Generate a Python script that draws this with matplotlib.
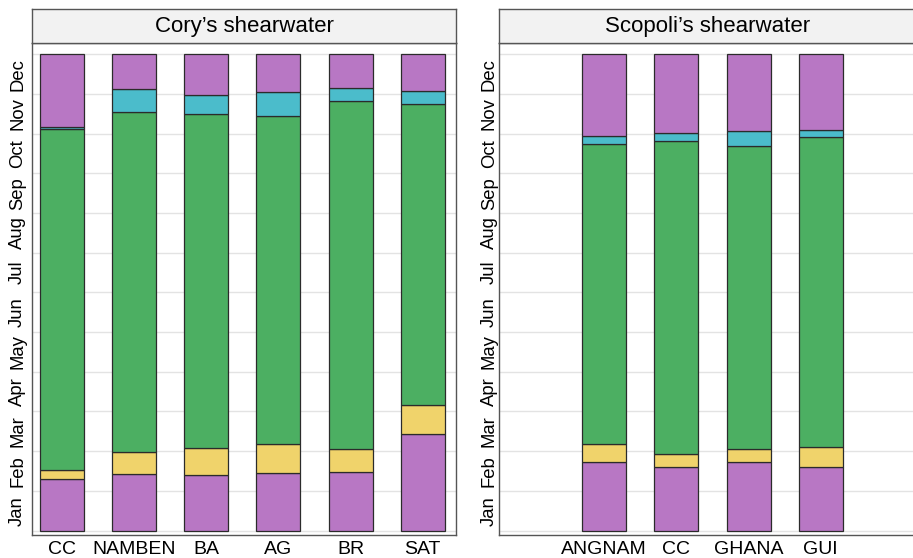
import matplotlib
matplotlib.use('Agg')
import matplotlib.pyplot as plt
import numpy as np

plt.rcParams['font.family'] = ['Liberation Sans', 'DejaVu Sans']

# ── palette ──────────────────────────────────────────────────────────────────
WINTER_C = '#b877c4'   # purple — non-breeding
SPRING_C = '#f0d36b'   # yellow — spring migration
BREED_C  = '#4caf62'   # green  — breeding
AUTUMN_C = '#4bbccb'   # cyan   — autumn migration
EDGE_C   = '#2b2b2b'
GRID_C   = '#e3e3e3'
FRAME_C  = '#555555'
STRIP_BG = '#f2f2f2'

MONTHS = ['Jan', 'Feb', 'Mar', 'Apr', 'May', 'Jun',
          'Jul', 'Aug', 'Sep', 'Oct', 'Nov', 'Dec']

# phase boundaries in months since 1 Jan
CORY_SITES  = ['CC', 'NAMBEN', 'BA', 'AG', 'BR', 'SAT']
CORY_SPRING = [1.30, 1.42, 1.39, 1.45, 1.48, 2.43]
CORY_BREED  = [1.52, 1.98, 2.09, 2.19, 2.06, 3.17]
CORY_AUTUMN = [10.12, 10.54, 10.50, 10.45, 10.83, 10.76]
CORY_WINTER = [10.16, 11.12, 10.97, 11.06, 11.16, 11.08]

SCOP_SITES  = ['ANGNAM', 'CC', 'GHANA', 'GUI']
SCOP_SPRING = [1.72, 1.61, 1.72, 1.59]
SCOP_BREED  = [2.18, 1.94, 2.05, 2.10]
SCOP_AUTUMN = [9.74, 9.81, 9.70, 9.91]
SCOP_WINTER = [9.95, 10.02, 10.06, 10.08]

W, H = 913, 558


def px_axes(fig, x0, x1, y0, y1):
    """Add axes from pixel box (y measured from the top)."""
    return fig.add_axes([x0 / W, 1 - y1 / H, (x1 - x0) / W, (y1 - y0) / H])


def draw_panel(fig, box, title, sites, spring, breed, autumn, winter, xlim, ypad):
    x0, x1, y0, y1 = box
    ax = px_axes(fig, x0, x1, y0, y1)
    x = np.arange(1, len(sites) + 1)
    spring, breed = np.array(spring), np.array(breed)
    autumn, winter = np.array(autumn), np.array(winter)
    segs = [(np.zeros_like(spring), spring, WINTER_C),
            (spring, breed, SPRING_C),
            (breed, autumn, BREED_C),
            (autumn, winter, AUTUMN_C),
            (winter, np.full_like(winter, 12.0), WINTER_C)]
    for lo, hi, c in segs:
        ax.bar(x, hi - lo, bottom=lo, width=0.61, color=c,
               edgecolor=EDGE_C, linewidth=0.9, zorder=3)

    ax.set_xlim(*xlim)
    ax.set_ylim(-0.113, 12.277)
    ax.set_xticks(x)
    ax.set_xticklabels(sites, fontsize=14)
    ax.set_yticks(np.arange(12) + 0.5)
    ax.set_yticklabels(MONTHS, rotation=90, va='center', fontsize=13.3)
    ax.set_yticks(np.arange(13), minor=True)
    ax.grid(which='minor', axis='y', color=GRID_C, linewidth=1.0, zorder=0)
    ax.tick_params(which='both', length=0)
    ax.tick_params(axis='x', pad=4)
    ax.tick_params(axis='y', pad=ypad)
    for s in ax.spines.values():
        s.set_color(FRAME_C)
        s.set_linewidth(1.0)

    strip = px_axes(fig, x0, x1, 9, y0)
    strip.set_facecolor(STRIP_BG)
    strip.set_xticks([])
    strip.set_yticks([])
    for s in strip.spines.values():
        s.set_color(FRAME_C)
        s.set_linewidth(1.0)
    strip.text(0.5, 0.5, title, ha='center', va='center', fontsize=16,
               transform=strip.transAxes)
    return ax


fig = plt.figure(figsize=(W / 100, H / 100), dpi=100, facecolor='white')

draw_panel(fig, (32.3, 456, 43.3, 535), 'Cory\u2019s shearwater',
           CORY_SITES, CORY_SPRING, CORY_BREED, CORY_AUTUMN, CORY_WINTER,
           (0.593, 6.46), 4.5)
draw_panel(fig, (499.3, 916, 43.3, 535), 'Scopoli\u2019s shearwater',
           SCOP_SITES, SCOP_SPRING, SCOP_BREED, SCOP_AUTUMN, SCOP_WINTER,
           (-0.454, 5.32), 1)

plt.savefig('out.png', dpi=100, facecolor='white')
plt.close()
